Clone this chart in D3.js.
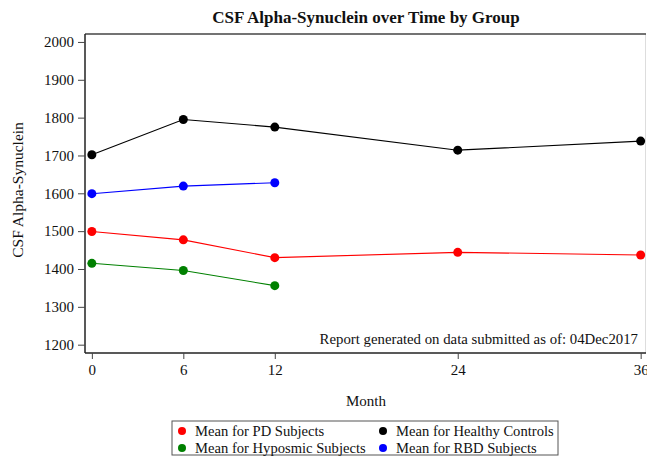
<!DOCTYPE html>
<html>
<head>
<meta charset="utf-8">
<script src="https://cdn.jsdelivr.net/npm/d3@7"></script>
<style>
  body { margin: 0; background: #fff; }
  text { font-family: "Liberation Serif", "Times New Roman", serif; fill: #111; }
</style>
</head>
<body>
<div class="chart"></div>
<script>
// chart data
var months = [0, 6, 12, 24, 36];
var pdValues = [1499, 1477, 1430, 1444, 1437];
var hcValues = [1702, 1795, 1775, 1714, 1738];
var hypValues = [1415, 1396, 1356];
var rbdValues = [1599, 1619, 1628];
var yTicks = [1200, 1300, 1400, 1500, 1600, 1700, 1800, 1900, 2000];

var series = [
  { name: "Mean for PD Subjects", color: "#ff0000", values: pdValues },
  { name: "Mean for Healthy Controls", color: "#000000", values: hcValues },
  { name: "Mean for Hyposmic Subjects", color: "#008000", values: hypValues },
  { name: "Mean for RBD Subjects", color: "#0000ff", values: rbdValues }
];

var svgWidth = 647;
var svgHeight = 461;
var margin = { top: 34, right: 1, bottom: 108, left: 85 };
var width = svgWidth - margin.left - margin.right;
var height = svgHeight - margin.top - margin.bottom;

var svg = d3.select(".chart")
  .append("svg")
  .attr("width", svgWidth)
  .attr("height", svgHeight);

var chart = svg.append("g")
  .attr("transform", `translate(${margin.left}, ${margin.top})`);

// scales
var xScale = d3.scaleLinear().domain([-0.45, 36.35]).range([0, width]);
var yScale = d3.scaleLinear().domain([1178, 2021]).range([height, 0]);

// frame (right edge is light)
chart.append("line").attr("x1", width - 0.5).attr("x2", width - 0.5)
  .attr("y1", 0).attr("y2", height).attr("stroke", "#ddd").attr("stroke-width", 1);
chart.append("line").attr("x1", 0).attr("x2", width)
  .attr("y1", 0).attr("y2", 0).attr("stroke", "#444").attr("stroke-width", 1.5);

// axes
var xAxis = d3.axisBottom(xScale).tickValues(months).tickSize(6).tickPadding(5).tickSizeOuter(0);
var yAxis = d3.axisLeft(yScale).tickValues(yTicks).tickFormat(d3.format("d"))
  .tickSize(7).tickPadding(4).tickSizeOuter(0);

var gx = chart.append("g").attr("transform", `translate(0, ${height})`).call(xAxis);
var gy = chart.append("g").call(yAxis);
[gx, gy].forEach(function(g) {
  g.attr("font-family", null).attr("font-size", null);
  g.select(".domain").attr("stroke", "#222").attr("stroke-width", 1.5);
  g.selectAll(".tick line").attr("stroke", "#444");
  g.selectAll(".tick text").style("font-size", "15px").attr("fill", "#222");
});
gx.select(".domain").attr("d", `M0,0H${width}`);
gy.select(".domain").attr("d", `M0,0V${height}`);

// lines and markers
var line = d3.line()
  .x(function(d) { return xScale(d.month); })
  .y(function(d) { return yScale(d.value); });

series.forEach(function(s) {
  var pts = s.values.map(function(v, i) { return { month: months[i], value: v }; });
  chart.append("path")
    .datum(pts)
    .attr("fill", "none")
    .attr("stroke", s.color)
    .attr("stroke-width", 1.1)
    .attr("d", line);
  chart.selectAll(null)
    .data(pts)
    .enter()
    .append("circle")
    .attr("cx", function(d) { return xScale(d.month); })
    .attr("cy", function(d) { return yScale(d.value); })
    .attr("r", 4.5)
    .attr("fill", s.color);
});

// annotation
chart.append("text")
  .attr("x", width - 8)
  .attr("y", height - 9)
  .attr("text-anchor", "end")
  .style("font-size", "14.8px")
  .text("Report generated on data submitted as of: 04Dec2017");

// title and axis labels
svg.append("text")
  .attr("x", 366)
  .attr("y", 23)
  .attr("text-anchor", "middle")
  .style("font-size", "17px")
  .style("font-weight", "bold")
  .text("CSF Alpha-Synuclein over Time by Group");

svg.append("text")
  .attr("x", 366)
  .attr("y", 406)
  .attr("text-anchor", "middle")
  .style("font-size", "15px")
  .text("Month");

svg.append("text")
  .attr("transform", "translate(23, 190) rotate(-90)")
  .attr("text-anchor", "middle")
  .style("font-size", "15.5px")
  .text("CSF Alpha-Synuclein");

// legend
var legend = svg.append("g").attr("transform", "translate(172, 421)");
legend.append("rect")
  .attr("width", 386).attr("height", 34)
  .attr("fill", "none").attr("stroke", "#555").attr("stroke-width", 1);

var legendItems = legend.selectAll(".item")
  .data(series)
  .enter()
  .append("g")
  .attr("class", "item")
  .attr("transform", function(d, i) {
    return `translate(${i % 2 === 0 ? 10 : 211}, ${i < 2 ? 10 : 27})`;
  });
legendItems.append("circle").attr("r", 4).attr("fill", function(d) { return d.color; });
legendItems.append("text")
  .attr("x", 13)
  .attr("y", 5)
  .style("font-size", "14.6px")
  .text(function(d) { return d.name; });
</script>
</body>
</html>
